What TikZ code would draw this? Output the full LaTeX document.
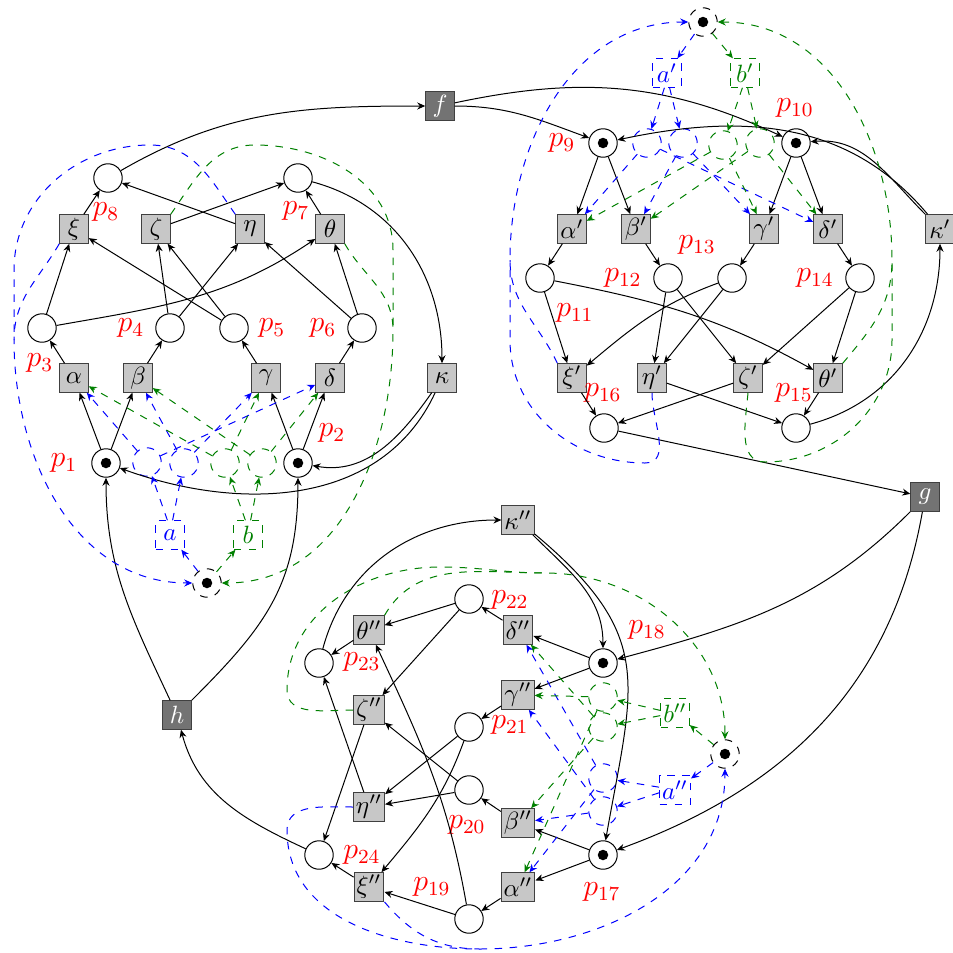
\documentclass[tikz,border=0pt]{standalone}
\usepackage{amsmath}
\usetikzlibrary{arrows.meta}
\colorlet{dgreen}{green!50!black}

\begin{document}
\begin{tikzpicture}[x=0.4pt,y=0.4pt,>={Stealth[length=3.2pt,width=2.8pt]},
  place/.style={circle,draw,minimum size=4mm,inner sep=0pt},
  marked/.style={place,path picture={\fill (path picture bounding box.center) circle (2.1pt);}},
  ctrl/.style={marked,dashed},
  hplace/.style={place,dashed},
  trans/.style={rectangle,draw=black!75,fill=black!22,minimum size=4mm,inner sep=1pt},
  ext/.style={trans,fill=black!55,text=white},
  dtrans/.style={rectangle,draw,dashed,minimum size=4mm,inner sep=1pt},
  lbl/.style={text=red,font=\large},
  flow/.style={->},
  bline/.style={dashed,blue},
  gline/.style={dashed,dgreen},
  bflow/.style={->,bline},
  gflow/.style={->,gline}]
\useasboundingbox (0,0) rectangle (953,-953);
% shared transitions
\node[ext] (f) at (440,-106) {$f$};
\node[ext] (g) at (925,-497) {$g$};
\node[ext] (h) at (177,-715) {$h$};
% first component
\node[place] (p8) at (108,-178) {};
\node[place] (p7) at (298,-178) {};
\node[trans] (xi) at (74,-229) {$\xi$};
\node[trans] (zeta) at (156,-229) {$\zeta$};
\node[trans] (eta) at (250,-229) {$\eta$};
\node[trans] (theta) at (330,-229) {$\theta$};
\node[place] (p3) at (42,-328) {};
\node[place] (p4) at (170,-328) {};
\node[place] (p5) at (234,-328) {};
\node[place] (p6) at (362,-328) {};
\node[trans] (alpha) at (74,-378) {$\alpha$};
\node[trans] (beta) at (138,-378) {$\beta$};
\node[trans] (gamma) at (266,-378) {$\gamma$};
\node[trans] (delta) at (330,-378) {$\delta$};
\node[trans] (kappa) at (442,-378) {$\kappa$};
\node[marked] (p1) at (106,-463) {};
\node[marked] (p2) at (298,-463) {};
\node[hplace,blue] (qa1) at (147,-462) {};
\node[hplace,blue] (qa2) at (184,-463) {};
\node[hplace,dgreen] (qb1) at (225,-463) {};
\node[hplace,dgreen] (qb2) at (262,-463) {};
\node[dtrans,blue] (a) at (170,-535) {$a$};
\node[dtrans,dgreen] (b) at (248,-535) {$b$};
\node[ctrl] (c1) at (207,-583) {};
\coordinate (jb1) at (14,-340);
\coordinate (jg1) at (393,-330);
\node[lbl] (lp1) at (64,-463) {$p_1$};
\node[lbl] (lp2) at (332,-433) {$p_2$};
\node[lbl] (lp3) at (40,-363) {$p_3$};
\node[lbl] (lp4) at (131,-328) {$p_4$};
\node[lbl] (lp5) at (272,-328) {$p_5$};
\node[lbl] (lp6) at (323,-328) {$p_6$};
\node[lbl] (lp7) at (296,-211) {$p_7$};
\node[lbl] (lp8) at (106,-212) {$p_8$};
% second component
\node[ctrl] (c2) at (703,-22) {};
\node[dtrans,blue] (ap) at (667,-73) {$a'$};
\node[dtrans,dgreen] (bp) at (745,-73) {$b'$};
\node[marked] (p9) at (603,-143) {};
\node[marked] (p10) at (796,-143) {};
\node[hplace,blue] (qap1) at (647,-143) {};
\node[hplace,blue] (qap2) at (683,-143) {};
\node[hplace,dgreen] (qbp1) at (723,-145) {};
\node[hplace,dgreen] (qbp2) at (760,-143) {};
\node[trans] (alphap) at (572,-229) {$\alpha'$};
\node[trans] (betap) at (636,-229) {$\beta'$};
\node[trans] (gammap) at (764,-229) {$\gamma'$};
\node[trans] (deltap) at (828,-229) {$\delta'$};
\node[trans] (kappap) at (940,-229) {$\kappa'$};
\node[place] (p11) at (540,-278) {};
\node[place] (p12) at (668,-278) {};
\node[place] (p13) at (732,-278) {};
\node[place] (p14) at (860,-278) {};
\node[trans] (xip) at (572,-378) {$\xi'$};
\node[trans] (etap) at (652,-378) {$\eta'$};
\node[trans] (zetap) at (748,-378) {$\zeta'$};
\node[trans] (thetap) at (828,-378) {$\theta'$};
\node[place] (p16) at (604,-428) {};
\node[place] (p15) at (796,-428) {};
\coordinate (jb2) at (510,-260);
\coordinate (jg2) at (892,-260);
\node[lbl] (lp9) at (562,-143) {$p_9$};
\node[lbl] (lp10) at (795,-108) {$p_{10}$};
\node[lbl] (lp11) at (575,-313) {$p_{11}$};
\node[lbl] (lp12) at (623,-278) {$p_{12}$};
\node[lbl] (lp13) at (697,-245) {$p_{13}$};
\node[lbl] (lp14) at (815,-278) {$p_{14}$};
\node[lbl] (lp15) at (794,-393) {$p_{15}$};
\node[lbl] (lp16) at (603,-393) {$p_{16}$};
% third component
\node[trans] (kappapp) at (518,-520) {$\kappa''$};
\node[marked] (p18) at (603,-663) {};
\node[marked] (p17) at (603,-855) {};
\node[trans] (deltapp) at (518,-630) {$\delta''$};
\node[trans] (gammapp) at (518,-695) {$\gamma''$};
\node[trans] (betapp) at (518,-823) {$\beta''$};
\node[trans] (alphapp) at (518,-887) {$\alpha''$};
\node[place] (p22) at (469,-599) {};
\node[place] (p21) at (469,-727) {};
\node[place] (p20) at (469,-790) {};
\node[place] (p19) at (469,-919) {};
\node[trans] (thetapp) at (369,-630) {$\theta''$};
\node[trans] (zetapp) at (369,-710) {$\zeta''$};
\node[trans] (etapp) at (369,-807) {$\eta''$};
\node[trans] (xipp) at (369,-887) {$\xi''$};
\node[place] (p23) at (319,-663) {};
\node[place] (p24) at (319,-855) {};
\node[ctrl] (c3) at (725,-754) {};
\node[dtrans,dgreen] (bpp) at (675,-713) {$b''$};
\node[dtrans,blue] (app) at (675,-790) {$a''$};
\node[hplace,dgreen] (qbpp1) at (603,-697) {};
\node[hplace,dgreen] (qbpp2) at (603,-727) {};
\node[hplace,blue] (qapp1) at (603,-778) {};
\node[hplace,blue] (qapp2) at (603,-811) {};
\coordinate (jg3) at (545,-573);
\coordinate (jb3) at (480,-949);
\node[lbl] (lp17) at (602,-892) {$p_{17}$};
\node[lbl] (lp18) at (647,-630) {$p_{18}$};
\node[lbl] (lp19) at (432,-887) {$p_{19}$};
\node[lbl] (lp20) at (467,-825) {$p_{20}$};
\node[lbl] (lp21) at (510,-725) {$p_{21}$};
\node[lbl] (lp22) at (510,-600) {$p_{22}$};
\node[lbl] (lp23) at (362,-662) {$p_{23}$};
\node[lbl] (lp24) at (362,-855) {$p_{24}$};
% straight arcs
\foreach \u/\v in {p1/alpha,p1/beta,p2/gamma,p2/delta,alpha/p3,beta/p4,gamma/p5,delta/p6,
  p3/xi,p4/zeta,p4/eta,p5/zeta,p5/xi,p6/theta,p6/eta,xi/p8,eta/p8,zeta/p7,theta/p7,
  p9/alphap,p9/betap,p10/gammap,p10/deltap,alphap/p11,betap/p12,gammap/p13,deltap/p14,
  p11/xip,p12/etap,p12/zetap,p13/etap,p14/zetap,p14/thetap,xip/p16,zetap/p16,etap/p15,
  thetap/p15,p16/g,
  p18/deltapp,p18/gammapp,p17/betapp,p17/alphapp,deltapp/p22,gammapp/p21,betapp/p20,
  alphapp/p19,p22/thetapp,p22/zetapp,p21/etapp,p20/zetapp,p20/etapp,p19/xipp,
  thetapp/p23,etapp/p23,zetapp/p24,xipp/p24}
  \draw[flow] (\u) -- (\v);
% curved arcs
\draw[flow] (p3) to[out=10,in=-146] (theta);
\draw[flow] (p8) to[out=30,in=180] (f);
\draw[flow] (p7) to[out=-15,in=90] (kappa);
\draw[flow] (kappa) to[out=-125,in=-10] (p2);
\draw[flow] (kappa) to[out=-115,in=-20] (p1);
\draw[flow] (h) to[out=115,in=-90] (p1);
\draw[flow] (h) to[out=45,in=-90,looseness=1.1] (p2);
\draw[flow] (f) to[out=0,in=160] (p9);
\draw[flow] (f) to[out=12,in=155] (p10);
\draw[flow] (kappap) to[out=130,in=12] (p9);
\draw[flow] (kappap) to[out=135,in=5] (p10);
\draw[flow] (p15) to[out=15,in=-90] (kappap);
\draw[flow] (p11) to[out=-11,in=151] (thetap);
\draw[flow] (p13) to[out=-160,in=40] (xip);
\draw[flow] (g) to[out=-135,in=15] (p18);
\draw[flow] (g) to[out=-100,in=20] (p17);
\draw[flow] (p23) to[out=75,in=180] (kappapp);
\draw[flow] (kappapp) to[out=-45,in=90] (p18);
\draw[flow] (kappapp) to[out=-40,in=80,looseness=1.3] (p17);
\draw[flow] (p19) to[out=100,in=-65] (thetapp);
\draw[flow] (p21) to[out=-110,in=50] (xipp);
\draw[flow] (p24) to[out=155,in=-75] (h);
% control of the first component
\draw[bflow] (c1) -- (a);
\draw[gflow] (c1) -- (b);
\draw[bflow] (a.100) -- (qa1);
\draw[bflow] (a.80) -- (qa2);
\draw[gflow] (b.100) -- (qb1);
\draw[gflow] (b.80) -- (qb2);
\foreach \u/\v in {qa1/alpha,qa1/delta,qa2/beta,qa2/gamma} \draw[bflow] (\u) -- (\v);
\foreach \u/\v in {qb1/alpha,qb1/gamma,qb2/beta,qb2/delta} \draw[gflow] (\u) -- (\v);
\draw[bflow] (xi.south west) to[out=-120,in=90] (jb1) to[out=-90,in=180] (c1);
\draw[bline] (eta.north west) to[out=125,in=0] (150,-145) to[out=180,in=90] (14,-270)
  -- (jb1);
\draw[gline] (zeta.north east) to[out=55,in=180] (255,-145) to[out=0,in=90] (393,-250)
  -- (jg1);
\draw[gflow] (theta.south east) to[out=-60,in=90] (jg1) to[out=-90,in=0] (c1);
% control of the second component
\draw[bflow] (c2) -- (ap);
\draw[gflow] (c2) -- (bp);
\draw[bflow] (ap.-100) -- (qap1);
\draw[bflow] (ap.-80) -- (qap2);
\draw[gflow] (bp.-100) -- (qbp1);
\draw[gflow] (bp.-80) -- (qbp2);
\foreach \u/\v in {qap1/alphap,qap1/deltap,qap2/betap,qap2/gammap} \draw[bflow] (\u) -- (\v);
\foreach \u/\v in {qbp1/alphap,qbp1/gammap,qbp2/betap,qbp2/deltap} \draw[gflow] (\u) -- (\v);
\draw[bflow] (xip.north west) to[out=115,in=-90] (jb2) to[out=90,in=180] (c2);
\draw[bline] (etap.south) to[out=-90,in=0] (645,-463) to[out=180,in=-90] (510,-340)
  -- (jb2);
\draw[gflow] (thetap.north east) to[out=50,in=-90] (jg2) to[out=90,in=0] (c2);
\draw[gline] (zetap.south) to[out=-95,in=180] (765,-462) to[out=0,in=-90] (892,-340)
  -- (jg2);
% control of the third component
\draw[gflow] (c3) -- (bpp);
\draw[bflow] (c3) -- (app);
\draw[gflow] (bpp.170) -- (qbpp1);
\draw[gflow] (bpp.190) -- (qbpp2);
\draw[bflow] (app.170) -- (qapp1);
\draw[bflow] (app.190) -- (qapp2);
\foreach \u/\v in {qapp1/alphapp,qapp1/deltapp,qapp2/betapp,qapp2/gammapp} \draw[bflow] (\u) -- (\v);
\foreach \u/\v in {qbpp1/alphapp,qbpp1/gammapp,qbpp2/betapp,qbpp2/deltapp} \draw[gflow] (\u) -- (\v);
\draw[gflow] (thetapp.north east) to[out=60,in=180] (jg3) to[out=0,in=90] (c3);
\draw[gline] (zetapp.west) to[out=180,in=-90] (287,-690) to[out=90,in=180] (440,-567)
  to[out=0,in=180] (jg3);
\draw[bflow] (etapp.west) to[out=180,in=90] (287,-830) to[out=-90,in=180] (jb3)
  to[out=0,in=-90] (c3);
\draw[bline] (xipp.south east) to[out=-50,in=180] (jb3);
\end{tikzpicture}
\end{document}
